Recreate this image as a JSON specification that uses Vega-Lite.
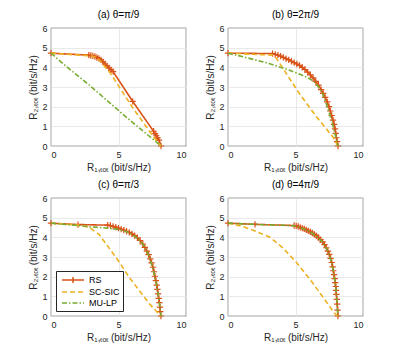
{
  "$schema": "https://vega.github.io/schema/vega-lite/v6.json",
  "padding": {"left": 28, "top": 9, "right": 0, "bottom": 0},
  "background": "white",
  "config": {
    "font": "Liberation Sans",
    "view": {"stroke": "#262626", "strokeWidth": 0.7},
    "title": {"fontSize": 10, "fontWeight": "normal", "color": "#000000", "offset": 4, "font": "Liberation Sans"},
    "axis": {
      "labelFontSize": 9, "titleFontSize": 10, "titleFontWeight": "normal",
      "labelColor": "#262626", "titleColor": "#262626", "domain": false, "ticks": false,
      "gridColor": "#e3e3e3", "gridWidth": 0.8, "labelPadding": 4, "titlePadding": 3
    },
    "legend": {"labelFontSize": 9, "labelColor": "#000000"}
  },
  "resolve": {"legend": {"color": "independent", "strokeDash": "independent"}},
  "columns": 2,
  "spacing": {"row": 6, "column": 18},
  "datasets": {
    "d": [
      {"p":"a","s":"RS","x":0,"y":4.72},{"p":"a","s":"RS","x":2.8,"y":4.62},{"p":"a","s":"RS","x":2.95,"y":4.6},{"p":"a","s":"RS","x":3.1,"y":4.58},{"p":"a","s":"RS","x":3.25,"y":4.55},{"p":"a","s":"RS","x":3.4,"y":4.5},{"p":"a","s":"RS","x":3.55,"y":4.45},{"p":"a","s":"RS","x":3.7,"y":4.38},{"p":"a","s":"RS","x":3.85,"y":4.28},{"p":"a","s":"RS","x":4.0,"y":4.17},{"p":"a","s":"RS","x":4.15,"y":4.07},{"p":"a","s":"RS","x":4.3,"y":3.97},{"p":"a","s":"RS","x":4.45,"y":3.87},{"p":"a","s":"RS","x":4.6,"y":3.78},{"p":"a","s":"RS","x":6.05,"y":2.27},{"p":"a","s":"RS","x":7.6,"y":0.75},{"p":"a","s":"RS","x":7.7,"y":0.63},{"p":"a","s":"RS","x":7.8,"y":0.52},{"p":"a","s":"RS","x":7.9,"y":0.42},{"p":"a","s":"RS","x":8.0,"y":0.3},{"p":"a","s":"RS","x":8.15,"y":0},
      {"p":"a","s":"SC-SIC","x":0,"y":4.72},{"p":"a","s":"SC-SIC","x":3.0,"y":4.58},{"p":"a","s":"SC-SIC","x":3.4,"y":4.5},{"p":"a","s":"SC-SIC","x":3.8,"y":4.2},{"p":"a","s":"SC-SIC","x":4.4,"y":3.7},{"p":"a","s":"SC-SIC","x":6.0,"y":2.0},{"p":"a","s":"SC-SIC","x":7.5,"y":0.55},{"p":"a","s":"SC-SIC","x":8.15,"y":0},
      {"p":"a","s":"MU-LP","x":0,"y":4.72},{"p":"a","s":"MU-LP","x":1,"y":4.12},{"p":"a","s":"MU-LP","x":2.8,"y":3.12},{"p":"a","s":"MU-LP","x":5.28,"y":1.64},{"p":"a","s":"MU-LP","x":8.15,"y":0},

      {"p":"b","s":"RS","x":0,"y":4.72},{"p":"b","s":"RS","x":3.3,"y":4.7},{"p":"b","s":"RS","x":3.5,"y":4.66},{"p":"b","s":"RS","x":3.7,"y":4.62},{"p":"b","s":"RS","x":3.9,"y":4.57},{"p":"b","s":"RS","x":4.1,"y":4.51},{"p":"b","s":"RS","x":4.3,"y":4.44},{"p":"b","s":"RS","x":4.5,"y":4.38},{"p":"b","s":"RS","x":4.7,"y":4.31},{"p":"b","s":"RS","x":4.9,"y":4.24},{"p":"b","s":"RS","x":5.1,"y":4.17},{"p":"b","s":"RS","x":5.3,"y":4.1},{"p":"b","s":"RS","x":5.5,"y":4.0},{"p":"b","s":"RS","x":5.7,"y":3.89},{"p":"b","s":"RS","x":5.9,"y":3.76},{"p":"b","s":"RS","x":6.1,"y":3.62},{"p":"b","s":"RS","x":6.3,"y":3.46},{"p":"b","s":"RS","x":6.5,"y":3.29},{"p":"b","s":"RS","x":6.7,"y":3.1},{"p":"b","s":"RS","x":6.9,"y":2.87},{"p":"b","s":"RS","x":7.05,"y":2.68},{"p":"b","s":"RS","x":7.2,"y":2.47},{"p":"b","s":"RS","x":7.35,"y":2.24},{"p":"b","s":"RS","x":7.48,"y":2.0},{"p":"b","s":"RS","x":7.58,"y":1.78},{"p":"b","s":"RS","x":7.68,"y":1.55},{"p":"b","s":"RS","x":7.78,"y":1.32},{"p":"b","s":"RS","x":7.86,"y":1.1},{"p":"b","s":"RS","x":7.93,"y":0.87},{"p":"b","s":"RS","x":7.98,"y":0.64},{"p":"b","s":"RS","x":8.03,"y":0.42},{"p":"b","s":"RS","x":8.08,"y":0.22},{"p":"b","s":"RS","x":8.15,"y":0},
      {"p":"b","s":"SC-SIC","x":0,"y":4.72},{"p":"b","s":"SC-SIC","x":3.3,"y":4.62},{"p":"b","s":"SC-SIC","x":3.6,"y":4.45},{"p":"b","s":"SC-SIC","x":4.07,"y":3.95},{"p":"b","s":"SC-SIC","x":5.3,"y":2.65},{"p":"b","s":"SC-SIC","x":6.54,"y":1.5},{"p":"b","s":"SC-SIC","x":7.78,"y":0.45},{"p":"b","s":"SC-SIC","x":8.15,"y":0},
      {"p":"b","s":"MU-LP","x":0,"y":4.72},{"p":"b","s":"MU-LP","x":1.5,"y":4.47},{"p":"b","s":"MU-LP","x":3.04,"y":4.2},{"p":"b","s":"MU-LP","x":4.52,"y":3.86},{"p":"b","s":"MU-LP","x":5.5,"y":3.6},{"p":"b","s":"MU-LP","x":6.0,"y":3.44},{"p":"b","s":"MU-LP","x":6.4,"y":3.25},{"p":"b","s":"MU-LP","x":6.7,"y":3.02},{"p":"b","s":"MU-LP","x":7.0,"y":2.68},{"p":"b","s":"MU-LP","x":7.36,"y":2.0},{"p":"b","s":"MU-LP","x":7.73,"y":1.15},{"p":"b","s":"MU-LP","x":8.15,"y":0},

      {"p":"c","s":"RS","x":0,"y":4.72},{"p":"c","s":"RS","x":2,"y":4.65},{"p":"c","s":"RS","x":4.2,"y":4.62},{"p":"c","s":"RS","x":4.4,"y":4.6},{"p":"c","s":"RS","x":4.6,"y":4.56},{"p":"c","s":"RS","x":4.8,"y":4.52},{"p":"c","s":"RS","x":5.0,"y":4.47},{"p":"c","s":"RS","x":5.2,"y":4.42},{"p":"c","s":"RS","x":5.4,"y":4.37},{"p":"c","s":"RS","x":5.6,"y":4.31},{"p":"c","s":"RS","x":5.8,"y":4.25},{"p":"c","s":"RS","x":6.0,"y":4.18},{"p":"c","s":"RS","x":6.2,"y":4.09},{"p":"c","s":"RS","x":6.4,"y":3.98},{"p":"c","s":"RS","x":6.6,"y":3.84},{"p":"c","s":"RS","x":6.8,"y":3.66},{"p":"c","s":"RS","x":6.95,"y":3.49},{"p":"c","s":"RS","x":7.1,"y":3.3},{"p":"c","s":"RS","x":7.23,"y":3.12},{"p":"c","s":"RS","x":7.35,"y":2.9},{"p":"c","s":"RS","x":7.45,"y":2.7},{"p":"c","s":"RS","x":7.55,"y":2.48},{"p":"c","s":"RS","x":7.63,"y":2.25},{"p":"c","s":"RS","x":7.7,"y":2.02},{"p":"c","s":"RS","x":7.77,"y":1.8},{"p":"c","s":"RS","x":7.83,"y":1.57},{"p":"c","s":"RS","x":7.88,"y":1.35},{"p":"c","s":"RS","x":7.93,"y":1.13},{"p":"c","s":"RS","x":7.98,"y":0.9},{"p":"c","s":"RS","x":8.03,"y":0.68},{"p":"c","s":"RS","x":8.07,"y":0.45},{"p":"c","s":"RS","x":8.1,"y":0.22},{"p":"c","s":"RS","x":8.14,"y":0},
      {"p":"c","s":"SC-SIC","x":0,"y":4.72},{"p":"c","s":"SC-SIC","x":1,"y":4.68},{"p":"c","s":"SC-SIC","x":2,"y":4.62},{"p":"c","s":"SC-SIC","x":2.82,"y":4.52},{"p":"c","s":"SC-SIC","x":3.56,"y":4.15},{"p":"c","s":"SC-SIC","x":4.31,"y":3.45},{"p":"c","s":"SC-SIC","x":5.0,"y":2.8},{"p":"c","s":"SC-SIC","x":5.79,"y":1.97},{"p":"c","s":"SC-SIC","x":6.53,"y":1.3},{"p":"c","s":"SC-SIC","x":7.28,"y":0.63},{"p":"c","s":"SC-SIC","x":8.14,"y":0},
      {"p":"c","s":"MU-LP","x":0,"y":4.72},{"p":"c","s":"MU-LP","x":2,"y":4.6},{"p":"c","s":"MU-LP","x":2.8,"y":4.54},{"p":"c","s":"MU-LP","x":4.2,"y":4.47},{"p":"c","s":"MU-LP","x":5.0,"y":4.4},{"p":"c","s":"MU-LP","x":5.6,"y":4.28},{"p":"c","s":"MU-LP","x":6.0,"y":4.16},{"p":"c","s":"MU-LP","x":6.5,"y":3.9},{"p":"c","s":"MU-LP","x":6.9,"y":3.55},{"p":"c","s":"MU-LP","x":7.23,"y":3.1},{"p":"c","s":"MU-LP","x":7.52,"y":2.5},{"p":"c","s":"MU-LP","x":7.77,"y":1.75},{"p":"c","s":"MU-LP","x":7.95,"y":1.05},{"p":"c","s":"MU-LP","x":8.07,"y":0.5},{"p":"c","s":"MU-LP","x":8.14,"y":0},

      {"p":"d","s":"RS","x":0,"y":4.72},{"p":"d","s":"RS","x":2,"y":4.66},{"p":"d","s":"RS","x":4.9,"y":4.6},{"p":"d","s":"RS","x":5.05,"y":4.58},{"p":"d","s":"RS","x":5.2,"y":4.55},{"p":"d","s":"RS","x":5.35,"y":4.51},{"p":"d","s":"RS","x":5.5,"y":4.47},{"p":"d","s":"RS","x":5.65,"y":4.43},{"p":"d","s":"RS","x":5.8,"y":4.38},{"p":"d","s":"RS","x":5.95,"y":4.33},{"p":"d","s":"RS","x":6.1,"y":4.28},{"p":"d","s":"RS","x":6.25,"y":4.22},{"p":"d","s":"RS","x":6.4,"y":4.15},{"p":"d","s":"RS","x":6.55,"y":4.07},{"p":"d","s":"RS","x":6.7,"y":3.99},{"p":"d","s":"RS","x":6.85,"y":3.88},{"p":"d","s":"RS","x":7.0,"y":3.77},{"p":"d","s":"RS","x":7.15,"y":3.63},{"p":"d","s":"RS","x":7.28,"y":3.47},{"p":"d","s":"RS","x":7.4,"y":3.3},{"p":"d","s":"RS","x":7.5,"y":3.13},{"p":"d","s":"RS","x":7.6,"y":2.93},{"p":"d","s":"RS","x":7.68,"y":2.72},{"p":"d","s":"RS","x":7.75,"y":2.5},{"p":"d","s":"RS","x":7.8,"y":2.3},{"p":"d","s":"RS","x":7.85,"y":2.1},{"p":"d","s":"RS","x":7.9,"y":1.9},{"p":"d","s":"RS","x":7.94,"y":1.7},{"p":"d","s":"RS","x":7.98,"y":1.5},{"p":"d","s":"RS","x":8.0,"y":1.3},{"p":"d","s":"RS","x":8.03,"y":1.1},{"p":"d","s":"RS","x":8.06,"y":0.85},{"p":"d","s":"RS","x":8.09,"y":0.6},{"p":"d","s":"RS","x":8.12,"y":0.3},{"p":"d","s":"RS","x":8.14,"y":0},
      {"p":"d","s":"SC-SIC","x":0,"y":4.72},{"p":"d","s":"SC-SIC","x":1.1,"y":4.55},{"p":"d","s":"SC-SIC","x":2.0,"y":4.32},{"p":"d","s":"SC-SIC","x":3.07,"y":4.02},{"p":"d","s":"SC-SIC","x":4.06,"y":3.47},{"p":"d","s":"SC-SIC","x":5.1,"y":2.7},{"p":"d","s":"SC-SIC","x":6.2,"y":1.75},{"p":"d","s":"SC-SIC","x":7.2,"y":0.8},{"p":"d","s":"SC-SIC","x":7.9,"y":0.13},{"p":"d","s":"SC-SIC","x":8.14,"y":0},
      {"p":"d","s":"MU-LP","x":0,"y":4.72},{"p":"d","s":"MU-LP","x":2,"y":4.66},{"p":"d","s":"MU-LP","x":4.9,"y":4.59},{"p":"d","s":"MU-LP","x":5.5,"y":4.46},{"p":"d","s":"MU-LP","x":6.1,"y":4.27},{"p":"d","s":"MU-LP","x":6.55,"y":4.06},{"p":"d","s":"MU-LP","x":7.0,"y":3.76},{"p":"d","s":"MU-LP","x":7.4,"y":3.29},{"p":"d","s":"MU-LP","x":7.68,"y":2.72},{"p":"d","s":"MU-LP","x":7.85,"y":2.1},{"p":"d","s":"MU-LP","x":7.98,"y":1.5},{"p":"d","s":"MU-LP","x":8.06,"y":0.85},{"p":"d","s":"MU-LP","x":8.14,"y":0}
    ]
  },
  "concat": [
    {
      "title": "(a) θ=π/9",
      "width": 135, "height": 118,
      "data": {"name": "d"},
      "transform": [{"filter": "datum.p === 'a'"}],
      "encoding": {
        "x": {"field": "x", "type": "quantitative", "scale": {"domain": [0, 10], "nice": false}, "axis": {"values": [0, 5, 10], "title": "R₁,ₜₒₜ (bit/s/Hz)"}},
        "y": {"field": "y", "type": "quantitative", "scale": {"domain": [0, 6], "nice": false}, "axis": {"values": [0, 1, 2, 3, 4, 5, 6], "title": "R₂,ₜₒₜ (bit/s/Hz)"}}
      },
      "layer": [
        {"transform": [{"filter": "datum.s === 'RS'"}], "mark": {"type": "point", "shape": "M-1,0L1,0M0,-1L0,1", "filled": false, "size": 40, "strokeWidth": 1.2, "color": "#D95319", "opacity": 1}},
        {"mark": {"type": "line", "strokeWidth": 1.6},
         "encoding": {
           "color": {"field": "s", "type": "nominal", "scale": {"domain": ["RS", "SC-SIC", "MU-LP"], "range": ["#D95319", "#EDB120", "#77AC30"]}, "legend": null},
           "strokeDash": {"field": "s", "type": "nominal", "scale": {"domain": ["RS", "SC-SIC", "MU-LP"], "range": [[1, 0], [5, 3], [5, 2, 1.5, 2]]}, "legend": null},
           "order": {"field": "y", "sort": "descending"}
         }}
      ]
    },
    {
      "title": "(b) θ=2π/9",
      "width": 135, "height": 118,
      "data": {"name": "d"},
      "transform": [{"filter": "datum.p === 'b'"}],
      "encoding": {
        "x": {"field": "x", "type": "quantitative", "scale": {"domain": [0, 10], "nice": false}, "axis": {"values": [0, 5, 10], "title": "R₁,ₜₒₜ (bit/s/Hz)"}},
        "y": {"field": "y", "type": "quantitative", "scale": {"domain": [0, 6], "nice": false}, "axis": {"values": [0, 1, 2, 3, 4, 5, 6], "title": "R₂,ₜₒₜ (bit/s/Hz)"}}
      },
      "layer": [
        {"transform": [{"filter": "datum.s === 'RS'"}], "mark": {"type": "point", "shape": "M-1,0L1,0M0,-1L0,1", "filled": false, "size": 40, "strokeWidth": 1.2, "color": "#D95319", "opacity": 1}},
        {"mark": {"type": "line", "strokeWidth": 1.6},
         "encoding": {
           "color": {"field": "s", "type": "nominal", "scale": {"domain": ["RS", "SC-SIC", "MU-LP"], "range": ["#D95319", "#EDB120", "#77AC30"]}, "legend": null},
           "strokeDash": {"field": "s", "type": "nominal", "scale": {"domain": ["RS", "SC-SIC", "MU-LP"], "range": [[1, 0], [5, 3], [5, 2, 1.5, 2]]}, "legend": null},
           "order": {"field": "y", "sort": "descending"}
         }}
      ]
    },
    {
      "title": "(c) θ=π/3",
      "width": 135, "height": 118,
      "data": {"name": "d"},
      "transform": [{"filter": "datum.p === 'c'"}],
      "encoding": {
        "x": {"field": "x", "type": "quantitative", "scale": {"domain": [0, 10], "nice": false}, "axis": {"values": [0, 5, 10], "title": "R₁,ₜₒₜ (bit/s/Hz)"}},
        "y": {"field": "y", "type": "quantitative", "scale": {"domain": [0, 6], "nice": false}, "axis": {"values": [0, 1, 2, 3, 4, 5, 6], "title": "R₂,ₜₒₜ (bit/s/Hz)"}}
      },
      "layer": [
        {"transform": [{"filter": "datum.s === 'RS'"}], "mark": {"type": "point", "shape": "M-1,0L1,0M0,-1L0,1", "filled": false, "size": 40, "strokeWidth": 1.2, "color": "#D95319", "opacity": 1}},
        {"mark": {"type": "line", "strokeWidth": 1.6},
         "encoding": {
           "color": {"field": "s", "type": "nominal", "scale": {"domain": ["RS", "SC-SIC", "MU-LP"], "range": ["#D95319", "#EDB120", "#77AC30"]},
             "legend": {"title": null, "orient": "bottom-left", "offset": 5, "strokeColor": "#262626", "fillColor": "white", "padding": 3, "symbolSize": 100, "symbolOffset": 8, "symbolStrokeWidth": 1.5, "labelFontSize": 9, "rowPadding": 0, "labelOffset": 10,
               "encode": {"symbols": {"update": {"shape": {"signal": "datum.value === 'RS' ? 'M-2.2,0L2.2,0M0,-0.6L0,0.6' : 'M-2.2,0L2.2,0'"}}}}}},
           "strokeDash": {"field": "s", "type": "nominal", "scale": {"domain": ["RS", "SC-SIC", "MU-LP"], "range": [[1, 0], [5, 3], [5, 2, 1.5, 2]]},
             "legend": {"title": null, "orient": "bottom-left", "offset": 5, "strokeColor": "#262626", "fillColor": "white", "padding": 3, "symbolSize": 100, "symbolOffset": 8, "symbolStrokeWidth": 1.5, "labelFontSize": 9, "rowPadding": 0, "labelOffset": 10,
               "encode": {"symbols": {"update": {"shape": {"signal": "datum.value === 'RS' ? 'M-2.2,0L2.2,0M0,-0.6L0,0.6' : 'M-2.2,0L2.2,0'"}}}}}},
           "order": {"field": "y", "sort": "descending"}
         }}
      ]
    },
    {
      "title": "(d) θ=4π/9",
      "width": 135, "height": 118,
      "data": {"name": "d"},
      "transform": [{"filter": "datum.p === 'd'"}],
      "encoding": {
        "x": {"field": "x", "type": "quantitative", "scale": {"domain": [0, 10], "nice": false}, "axis": {"values": [0, 5, 10], "title": "R₁,ₜₒₜ (bit/s/Hz)"}},
        "y": {"field": "y", "type": "quantitative", "scale": {"domain": [0, 6], "nice": false}, "axis": {"values": [0, 1, 2, 3, 4, 5, 6], "title": "R₂,ₜₒₜ (bit/s/Hz)"}}
      },
      "layer": [
        {"transform": [{"filter": "datum.s === 'RS'"}], "mark": {"type": "point", "shape": "M-1,0L1,0M0,-1L0,1", "filled": false, "size": 40, "strokeWidth": 1.2, "color": "#D95319", "opacity": 1}},
        {"mark": {"type": "line", "strokeWidth": 1.6},
         "encoding": {
           "color": {"field": "s", "type": "nominal", "scale": {"domain": ["RS", "SC-SIC", "MU-LP"], "range": ["#D95319", "#EDB120", "#77AC30"]}, "legend": null},
           "strokeDash": {"field": "s", "type": "nominal", "scale": {"domain": ["RS", "SC-SIC", "MU-LP"], "range": [[1, 0], [5, 3], [5, 2, 1.5, 2]]}, "legend": null},
           "order": {"field": "y", "sort": "descending"}
         }}
      ]
    }
  ]
}
